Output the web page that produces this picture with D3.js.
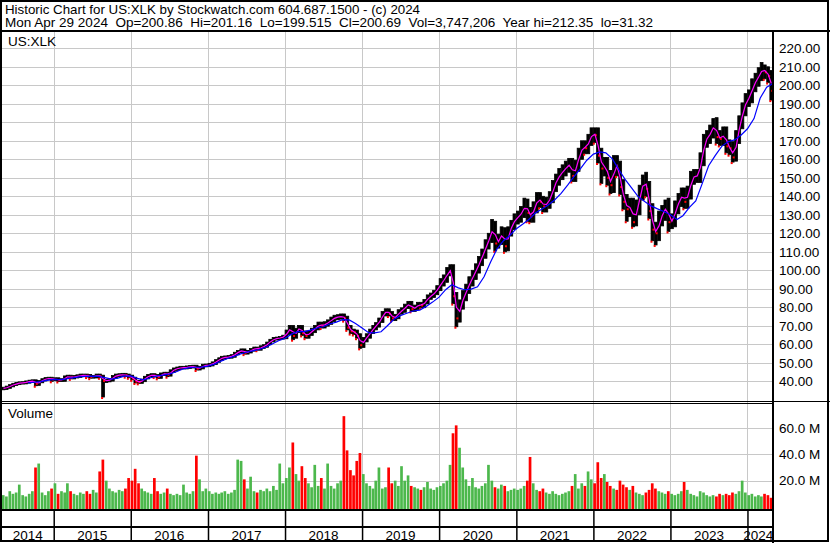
<!DOCTYPE html>
<html>
<head>
<meta charset="utf-8">
<script src="https://cdn.jsdelivr.net/npm/d3@7"></script>
<style>
  body { margin: 0; background: #fff; }
  svg { display: block; font-family: "Liberation Sans", Arial, sans-serif; }
</style>
</head>
<body>
<svg id="chart" width="830" height="543"></svg>
<script>
// ---- data (semi-monthly periods starting May 2014) ----
const closes = [
  36.2,36.8,37.6,38.3,38.8,39.1,39.2,39.6,40.0,40.2,38.6,39.8,40.8,41.4,41.6,41.0,
  41.2,40.6,40.7,42.2,42.6,42.0,42.5,42.8,43.2,43.2,43.0,42.4,42.5,43.2,42.6,40.2,40.4,40.8,42.4,43.2,43.4,43.6,43.2,42.6,
  41.5,39.8,39.6,40.5,42.0,43.0,43.4,43.0,42.3,43.8,44.2,43.5,45.5,46.5,47.0,47.4,47.4,47.6,47.9,48.0,46.8,47.4,48.5,48.6,
  49.0,49.8,51.0,52.0,52.8,53.0,53.2,53.7,55.0,56.0,56.8,55.4,56.0,57.0,57.8,57.5,58.5,59.1,60.5,62.0,63.0,63.2,63.5,64.2,
  66.5,69.0,64.5,67.5,69.0,66.0,64.5,66.0,67.5,69.0,70.8,70.0,71.0,72.0,73.5,74.5,74.8,75.2,74.0,69.0,67.0,66.5,64.5,59.5,
  62.5,64.5,67.0,69.0,70.5,73.0,76.5,78.0,76.5,74.0,75.0,77.5,78.5,80.5,82.0,79.0,80.0,81.5,81.0,83.0,85.5,86.5,88.0,90.5,
  93.5,95.5,99.0,100.5,86.0,74.0,81.5,86.0,90.0,94.0,97.5,101.0,105.0,109.0,114.0,117.5,124.0,114.5,116.5,120.5,113.0,121.0,124.5,128.0,
  129.0,131.5,135.5,131.0,129.0,134.0,139.0,137.0,134.5,136.5,139.5,145.5,149.0,152.0,154.0,156.0,157.5,151.0,156.5,163.0,167.0,166.0,170.5,174.0,
  173.0,162.0,155.0,157.0,150.0,146.0,158.0,155.0,145.0,137.0,133.0,135.0,126.0,134.0,142.0,149.0,144.0,132.0,122.0,120.0,128.0,131.0,135.0,126.0,
  127.0,134.0,138.0,141.0,137.0,142.0,150.0,151.0,151.0,160.0,170.0,172.0,175.0,179.0,172.0,171.0,174.0,167.0,166.0,161.0,172.0,180.0,187.0,192.0,
  194.0,200.0,203.0,206.0,209.0,207.0,205.0,197.0
];

const highs = [
  36.8,37.4,38.2,38.9,39.4,39.7,39.8,40.2,40.6,40.8,40.8,40.4,41.4,42.0,42.2,42.2,
  41.9,41.9,41.4,42.9,43.3,43.3,43.2,43.5,43.9,43.9,43.9,43.7,43.2,43.9,43.9,43.3,41.1,41.5,43.1,43.9,44.1,44.3,44.3,43.9,
  43.3,42.2,40.5,41.2,42.7,43.7,44.1,44.1,43.7,44.5,44.9,44.9,46.2,47.2,47.7,48.1,48.1,48.3,48.6,48.7,48.7,48.1,49.2,49.3,
  49.7,50.5,51.7,52.7,53.5,53.7,53.9,54.4,55.7,56.7,57.5,57.5,56.7,57.7,58.5,58.5,59.2,59.8,61.2,62.7,63.7,63.9,64.2,64.9,
  67.7,70.2,70.2,68.7,70.2,70.2,67.2,67.2,68.7,70.2,72.0,72.0,72.2,73.2,74.7,75.7,76.0,76.4,76.4,75.2,70.2,68.2,67.7,65.7,
  63.7,65.7,68.2,70.2,71.7,74.2,77.7,79.2,79.2,77.7,76.2,78.7,79.7,81.7,83.2,83.2,81.2,82.7,82.7,84.2,86.7,87.7,89.2,91.7,
  95.5,97.5,101.5,103.0,103.0,88.0,84.0,89.0,92.5,96.5,100.0,103.5,107.5,111.5,116.5,120.0,127.5,126.5,119.5,123.5,123.0,123.5,127.0,130.5,
  132.0,134.5,139.0,138.5,134.0,137.0,142.0,142.0,140.0,139.5,142.5,148.5,152.0,155.0,157.0,159.0,160.5,160.5,159.5,166.0,170.0,170.0,173.5,177.0,
  177.0,177.0,166.0,161.0,161.0,154.0,162.0,162.0,159.0,149.0,141.0,139.0,139.0,138.0,146.0,151.5,153.0,148.0,136.0,126.0,132.0,135.0,138.0,139.0,
  130.5,137.5,141.5,144.5,144.5,145.5,153.5,154.5,154.5,163.5,173.5,175.5,178.5,182.0,182.5,175.5,177.5,177.5,170.5,169.5,175.5,183.5,190.5,195.5,
  197.5,203.5,206.5,209.5,212.3,211.0,210.0,208.0
];

const lows = [
  35.4,35.6,36.2,37.0,37.7,38.2,38.5,38.6,39.0,39.4,37.6,37.8,39.2,40.2,40.8,40.0,
  40.3,39.9,39.9,40.0,41.5,41.3,41.3,41.8,42.1,42.5,42.3,41.7,41.7,41.8,41.9,31.5,39.3,39.7,40.1,41.7,42.5,42.7,42.5,41.9,
  40.8,39.1,38.9,38.9,39.8,41.3,42.3,42.3,41.6,41.6,43.1,42.5,42.8,44.8,45.8,46.3,46.7,46.7,46.9,47.2,46.1,46.1,46.7,47.8,
  47.9,48.3,49.1,50.3,51.3,52.1,52.3,52.5,53.0,54.3,55.3,54.7,54.7,55.3,56.3,56.8,56.8,57.8,58.4,59.8,61.3,62.3,62.5,62.8,
  63.0,65.3,62.5,63.3,66.3,64.8,63.3,63.3,64.8,66.3,67.8,68.8,68.8,69.8,70.8,72.3,73.3,73.6,72.8,67.8,65.8,65.3,63.3,57.8,
  58.3,61.3,63.3,65.8,67.8,69.3,71.8,75.3,75.3,72.8,72.8,73.8,76.3,77.3,79.3,77.8,77.8,78.8,79.8,79.8,81.8,84.3,85.3,86.8,
  89.0,91.5,93.5,97.0,82.0,69.5,72.0,79.0,83.5,87.5,91.5,95.0,98.5,102.5,106.5,111.5,115.0,110.5,112.0,114.0,110.0,110.5,118.5,122.0,
  125.0,126.0,128.5,126.5,126.0,126.0,131.0,134.0,131.5,131.5,133.5,136.5,142.5,146.0,149.0,151.0,153.0,148.0,148.0,153.5,160.0,163.0,163.0,167.5,
  169.0,158.0,147.0,151.0,146.0,141.5,142.0,151.0,141.0,133.0,126.5,129.0,123.5,124.0,130.0,138.0,140.0,128.0,116.0,113.7,116.0,124.0,127.0,121.0,
  122.5,123.5,130.5,134.5,133.5,133.5,138.5,146.5,147.5,147.5,156.5,166.5,168.5,171.5,168.5,167.5,167.5,163.5,162.5,158.5,159.0,168.5,176.5,183.5,
  188.5,190.5,196.5,199.5,202.5,203.5,201.5,192.0
];

// magenta moving average, semi-monthly
const shortMA = [
  36.2,36.5,37.2,38.0,38.5,39.0,39.2,39.4,39.8,40.1,39.4,39.2,40.3,41.1,41.5,41.3,
  41.1,40.9,40.7,41.5,42.4,42.3,42.3,42.7,43.0,43.2,43.1,42.7,42.5,42.9,42.9,41.4,40.3,40.6,41.6,42.8,43.3,43.5,43.4,42.9,
  42.1,40.7,39.7,40.1,41.3,42.5,43.2,43.2,42.7,43.1,44.0,43.9,44.5,46.0,46.8,47.2,47.4,47.5,47.8,48.0,47.4,47.1,48.0,48.6,
  48.8,49.4,50.4,51.5,52.4,52.9,53.1,53.5,54.4,55.5,56.4,56.1,55.7,56.5,57.4,57.7,58.0,58.8,59.8,61.3,62.5,63.1,63.4,63.9,
  65.4,67.8,66.8,66.0,68.3,67.5,65.3,65.3,66.8,68.3,69.9,70.4,70.5,71.5,72.8,74.0,74.7,75.0,74.6,71.5,68.0,66.8,65.5,62.0,
  61.0,63.5,65.8,68.0,69.8,71.8,74.8,77.3,77.3,75.3,74.5,76.3,78.0,79.5,81.3,80.5,79.5,80.8,81.3,82.0,84.3,86.0,87.3,89.3,
  92.0,94.5,97.3,99.8,93.3,80.0,77.8,83.8,88.0,92.0,95.8,99.3,103.0,107.0,111.5,115.8,120.8,119.3,115.5,118.5,116.8,117.0,122.8,126.3,
  128.5,130.3,133.5,133.3,130.0,131.5,136.5,138.0,135.8,135.5,138.0,142.5,147.3,150.5,153.0,155.0,156.8,154.3,153.8,159.8,165.0,166.5,168.3,172.3,
  173.5,167.5,158.5,156.0,153.5,148.0,152.0,156.5,150.0,141.0,135.0,134.0,130.5,130.0,138.0,145.5,146.5,138.0,127.0,121.0,124.0,129.5,133.0,130.5,
  126.5,130.5,136.0,139.5,139.0,139.5,146.0,150.5,151.0,155.5,165.0,171.0,173.5,177.0,175.5,171.5,172.5,170.5,166.5,163.5,166.5,176.0,183.5,189.5,
  193.0,197.0,201.5,204.5,207.5,208.0,206.0,201.0
];

// blue moving average, monthly from Sep 2014
const longMA = [
  39.2,39.5,39.8,40.5,
  41.0,40.9,41.3,41.9,42.4,42.7,42.8,42.7,42.0,41.2,41.7,42.8,
  42.9,41.6,40.8,41.8,42.8,43.3,43.9,45.0,46.5,47.3,47.6,47.7,
  48.2,49.3,50.8,52.2,53.3,54.7,55.7,56.4,57.2,58.4,60.2,61.9,
  63.3,65.5,66.8,66.9,67.7,68.8,69.5,71.0,72.0,73.3,73.2,71.2,
  68.8,66.3,66.2,66.8,70.0,73.5,75.5,76.8,78.0,78.5,80.5,82.8,
  85.5,89.5,92.2,90.5,89.5,89.8,91.1,96.5,104.5,111.5,116.0,118.8,
  122.5,125.0,127.5,131.0,133.0,135.3,138.0,141.6,146.0,150.6,155.0,159.5,
  162.8,164.0,163.5,160.2,154.5,149.0,144.5,139.8,137.2,134.8,133.2,131.8,
  130.0,127.5,129.5,134.0,137.5,147.0,156.5,162.0,167.0,169.5,170.5,173.0,
  176.5,182.0,193.0,199.0,201.0
];

// volume in millions, semi-monthly
const volumes = [
  9,8,12,10,11,17,9,8,10,12,30,33,11,9,12,14,
  18,10,12,11,18,12,10,9,11,10,12,10,13,11,27,36,20,14,12,11,13,12,14,22,
  20,29,18,14,12,11,10,22,12,10,11,14,10,9,10,9,17,11,10,12,39,21,12,14,
  12,10,11,10,11,12,10,11,13,36,35,21,14,23,12,11,13,12,14,12,16,13,33,18,
  22,30,49,25,20,31,22,18,15,32,16,22,14,33,16,14,18,20,69,43,28,24,35,41,
  25,18,16,14,20,30,14,15,30,18,20,16,31,20,24,16,15,14,13,15,19,14,13,15,
  16,18,20,32,56,62,45,30,21,16,22,15,14,16,18,32,20,15,14,17,16,12,13,14,
  13,14,16,20,38,18,13,12,14,11,10,12,10,9,10,11,12,16,25,14,18,16,27,21,
  18,34,22,25,19,16,14,13,20,17,15,13,16,11,10,9,11,13,18,14,12,11,10,12,
  10,9,10,12,19,13,10,9,8,12,11,9,8,9,8,10,9,10,9,11,10,12,20,11,
  9,10,8,9,8,10,9,7
];

const priceTicks = [40, 50, 60, 70, 80, 90, 100, 110, 120, 130, 140, 150, 160, 170, 180, 190, 200, 210, 220];
const volumeTicks = [20, 40, 60];
const years = [2014, 2015, 2016, 2017, 2018, 2019, 2020, 2021, 2022, 2023, 2024];

const header1 = "Historic Chart for US:XLK by Stockwatch.com 604.687.1500 - (c) 2024";
const header2 = "Mon Apr 29 2024  Op=200.86  Hi=201.16  Lo=199.515  Cl=200.69  Vol=3,747,206  Year hi=212.35  lo=31.32";

// ---- layout ----
const W = 830, H = 543;
const plotLeft = 2, plotRight = 773;
const priceTop = 32, priceBottom = 401;
const volTop = 404, volBottom = 509;

const startDate = new Date(2014, 4, 1);
const endDate = new Date(2024, 4, 1);

// centre of each half-month period
const periodDate = i => new Date(2014, 4 + Math.floor(i / 2), i % 2 ? 23 : 8);
const monthDate = (m0, k) => new Date(2014, m0 + k, 1);

const svg = d3.select("#chart");

const x = d3.scaleTime().domain([startDate, endDate]).range([plotLeft, plotRight]);
const y = d3.scaleLinear().domain([40, 220]).range([381.3, 48.3]);
const yv = d3.scaleLinear().domain([0, 60]).range([507, 428]);

const gridColor = "#c8c8c8";

svg.append("rect").attr("width", W).attr("height", H).attr("fill", "#fff");

// clip paths
const defs = svg.append("defs");
defs.append("clipPath").attr("id", "clipPrice")
  .append("rect").attr("x", plotLeft).attr("y", priceTop).attr("width", plotRight - plotLeft).attr("height", priceBottom - priceTop);
defs.append("clipPath").attr("id", "clipVol")
  .append("rect").attr("x", plotLeft).attr("y", volTop).attr("width", plotRight - plotLeft).attr("height", volBottom - volTop);

// year boundaries
const boundaries = years.slice(1).map(yr => new Date(yr, 0, 1));

// vertical grid in both panels
svg.append("g").selectAll("line")
  .data(boundaries)
  .enter().append("line")
  .attr("x1", d => Math.round(x(d)) + 0.5)
  .attr("x2", d => Math.round(x(d)) + 0.5)
  .attr("y1", priceTop)
  .attr("y2", volBottom)
  .attr("stroke", gridColor)
  .attr("stroke-width", 1);

// horizontal price grid
svg.append("g").selectAll("line")
  .data(priceTicks)
  .enter().append("line")
  .attr("x1", plotLeft)
  .attr("x2", plotRight)
  .attr("y1", d => Math.round(y(d)) + 0.5)
  .attr("y2", d => Math.round(y(d)) + 0.5)
  .attr("stroke", gridColor);

// horizontal volume grid
svg.append("g").selectAll("line")
  .data(volumeTicks)
  .enter().append("line")
  .attr("x1", plotLeft)
  .attr("x2", plotRight)
  .attr("y1", d => Math.round(yv(d)) + 0.5)
  .attr("y2", d => Math.round(yv(d)) + 0.5)
  .attr("stroke", gridColor);

// volume bars
const step = x(periodDate(1)) - x(periodDate(0));
svg.append("g").attr("clip-path", "url(#clipVol)")
  .selectAll("rect")
  .data(volumes)
  .enter().append("rect")
  .attr("x", (d, i) => x(periodDate(i)) - step / 2)
  .attr("width", step * 0.85)
  .attr("y", d => yv(d))
  .attr("height", d => volBottom - yv(d))
  .attr("fill", (d, i) => (i > 0 && closes[i] < closes[i - 1]) ? "#ff0000" : "#4cb84c");

// price bars (high-low per period)
const priceG = svg.append("g").attr("clip-path", "url(#clipPrice)");

priceG.selectAll(".pbar")
  .data(closes)
  .enter().append("rect")
  .attr("class", "pbar")
  .attr("x", (d, i) => x(periodDate(i)) - step * 0.45)
  .attr("width", step * 0.9)
  .attr("y", (d, i) => y(highs[i]))
  .attr("height", (d, i) => y(lows[i]) - y(highs[i]))
  .attr("fill", "#000")
  .attr("stroke", "#000")
  .attr("stroke-width", 0.8);

// red close ticks on down periods
const downs = closes.map((c, i) => ({ c, i })).filter(d => d.i > 0 && d.c < closes[d.i - 1]);
priceG.selectAll(".rtick")
  .data(downs)
  .enter().append("rect")
  .attr("class", "rtick")
  .attr("x", d => x(periodDate(d.i)))
  .attr("width", 2)
  .attr("y", d => y(d.c) - 1)
  .attr("height", 2)
  .attr("fill", "#ff0000");

priceG.selectAll(".ltick")
  .data(downs)
  .enter().append("rect")
  .attr("class", "ltick")
  .attr("x", d => x(periodDate(d.i)) - 2)
  .attr("width", 2)
  .attr("y", d => y(lows[d.i]))
  .attr("height", 2)
  .attr("fill", "#ff0000");

// moving averages
const shortLine = d3.line()
  .x((d, i) => x(periodDate(i)))
  .y(d => y(d));
priceG.append("path")
  .datum(shortMA)
  .attr("d", shortLine)
  .attr("fill", "none")
  .attr("stroke", "#ff00ff")
  .attr("stroke-width", 1.2);

const longLine = d3.line()
  .x((d, i) => x(monthDate(8, i)))
  .y(d => y(d));
priceG.append("path")
  .datum(longMA)
  .attr("d", longLine)
  .attr("fill", "none")
  .attr("stroke", "#0000ff")
  .attr("stroke-width", 1.2);

// ---- frame lines ----
const frame = svg.append("g").attr("stroke", "#000").attr("fill", "none");
frame.append("rect").attr("x", 1).attr("y", 1).attr("width", W - 3).attr("height", H - 3).attr("stroke-width", 2);
frame.append("line").attr("x1", 0).attr("x2", W).attr("y1", 31).attr("y2", 31).attr("stroke-width", 2);
frame.append("line").attr("x1", plotRight).attr("x2", plotRight).attr("y1", 31).attr("y2", H).attr("stroke-width", 2);
frame.append("line").attr("x1", 0).attr("x2", W).attr("y1", 401.5).attr("y2", 401.5).attr("stroke-width", 1);
frame.append("line").attr("x1", 0).attr("x2", plotRight).attr("y1", 403.5).attr("y2", 403.5).attr("stroke-width", 1);
frame.append("line").attr("x1", 0).attr("x2", plotRight).attr("y1", 510).attr("y2", 510).attr("stroke-width", 2);
frame.append("line").attr("x1", 0).attr("x2", plotRight).attr("y1", 527).attr("y2", 527).attr("stroke-width", 2);

// year separators on the time axis
const timeAxis = d3.axisBottom(x).tickValues(boundaries).tickSize(32).tickFormat("");
svg.append("g")
  .attr("transform", "translate(0,510)")
  .call(timeAxis)
  .call(g => g.select(".domain").remove())
  .selectAll("line")
  .attr("stroke", "#000")
  .attr("stroke-width", 1.5);

// year labels centred in their segment
svg.append("g").selectAll("text")
  .data(years)
  .enter().append("text")
  .attr("x", yr => {
    const a = Math.max(x(new Date(yr, 0, 1)), plotLeft);
    const b = Math.min(x(new Date(yr + 1, 0, 1)), plotRight);
    return (a + b) / 2 - (yr === 2024 ? 2 : 0);
  })
  .attr("y", 539.5)
  .attr("text-anchor", "middle")
  .attr("font-size", 13.5)
  .attr("fill", "#000")
  .text(yr => yr);

// right price axis
const priceAxis = d3.axisRight(y)
  .tickValues(priceTicks)
  .tickSize(0)
  .tickPadding(6)
  .tickFormat(d3.format(".2f"));
svg.append("g")
  .attr("transform", `translate(${plotRight},0)`)
  .call(priceAxis)
  .call(g => g.select(".domain").remove())
  .attr("font-size", 13.5)
  .attr("font-family", null)
  .selectAll("text").attr("fill", "#000");

// right volume axis
const volAxis = d3.axisRight(yv)
  .tickValues(volumeTicks)
  .tickSize(0)
  .tickPadding(6)
  .tickFormat(d => d.toFixed(1) + " M");
svg.append("g")
  .attr("transform", `translate(${plotRight},0)`)
  .call(volAxis)
  .call(g => g.select(".domain").remove())
  .attr("font-size", 13.5)
  .attr("font-family", null)
  .selectAll("text").attr("fill", "#000");

// ---- texts ----
svg.append("text").attr("x", 5).attr("y", 13.5).attr("font-size", 13.5)
  .attr("textLength", 415).attr("lengthAdjust", "spacingAndGlyphs")
  .style("white-space", "pre").text(header1);
svg.append("text").attr("x", 5).attr("y", 27).attr("font-size", 13.5)
  .attr("textLength", 648).attr("lengthAdjust", "spacingAndGlyphs")
  .style("white-space", "pre").text(header2);
svg.append("text").attr("x", 8).attr("y", 45.5).attr("font-size", 13.5).text("US:XLK");
svg.append("text").attr("x", 8).attr("y", 417.5).attr("font-size", 13.5).text("Volume");
</script>
</body>
</html>
